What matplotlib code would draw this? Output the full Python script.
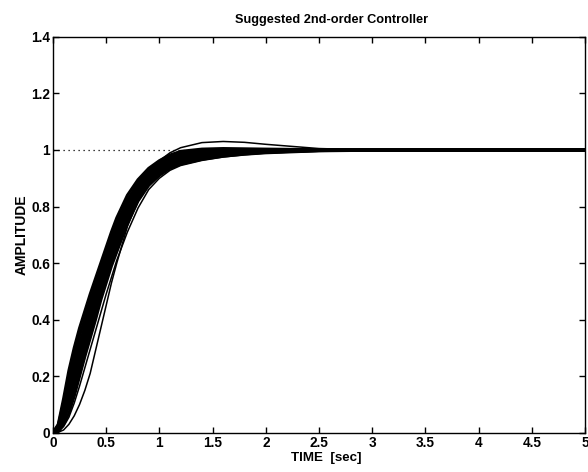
import matplotlib
matplotlib.use("Agg")
import matplotlib.pyplot as plt

plt.rcParams['font.family'] = ['Liberation Sans', 'DejaVu Sans']

# time samples (sec)
t = [0, .05, .1, .15, .2, .25, .3, .35, .4, .45, .5, .55, .6, .7, .8, .9,
     1.0, 1.1, 1.2, 1.4, 1.6, 1.8, 2.0, 2.5, 3.0, 5.0]

# step responses
resp_fast = [0, .03, .12, .22, .30, .37, .43, .49, .545, .60, .655, .71, .76, .84, .895, .935,
             .962, .982, .995, 1.003, 1.005, 1.004, 1.003, 1.001, 1.0, 1.0]
resp_b1 = [0, .026, .105, .195, .272, .342, .403, .464, .521, .578, .634, .69, .74, .823, .883, .925,
           .953, .974, .988, .997, 1.0, 1.001, 1.001, 1.0, 1.0, 1.0]
resp_b2 = [0, .022, .09, .17, .243, .313, .377, .438, .497, .557, .613, .67, .72, .807, .87, .915,
           .945, .966, .98, .991, .996, .998, .999, 1.0, 1.0, 1.0]
resp_b3 = [0, .018, .075, .145, .215, .285, .35, .413, .473, .535, .593, .65, .70, .79, .858, .905,
           .936, .959, .973, .985, .992, .995, .997, .999, 1.0, 1.0]
resp_b4 = [0, .013, .06, .12, .187, .257, .323, .387, .448, .513, .572, .63, .68, .773, .845, .895,
           .927, .951, .965, .979, .987, .991, .994, .998, 1.0, 1.0]
resp_b5 = [0, .009, .045, .095, .158, .228, .297, .361, .424, .492, .551, .61, .66, .757, .833, .885,
           .919, .943, .958, .973, .983, .988, .992, .998, .999, 1.0]
resp_slow = [0, .005, .03, .07, .13, .20, .27, .335, .40, .47, .53, .59, .64, .74, .82, .875,
             .91, .935, .95, .967, .978, .985, .99, .997, .999, 1.0]
resp_s = [0, .004, .022, .055, .105, .165, .23, .295, .36, .425, .49, .55, .61, .71, .795, .86,
          .90, .928, .945, .963, .975, .983, .989, .997, .999, 1.0]
resp_outlier = [0, .002, .01, .03, .06, .10, .15, .21, .29, .37, .45, .53, .60, .73, .82, .88,
                .92, .945, .96, .976, .984, .99, .994, .998, 1.0, 1.0]
resp_overshoot = [0, .01, .06, .13, .21, .29, .36, .43, .50, .56, .62, .675, .725, .81, .875, .925,
                  .962, .99, 1.008, 1.026, 1.03, 1.027, 1.02, 1.005, 1.0, 1.0]

band = [resp_fast, resp_b1, resp_b2, resp_b3, resp_b4, resp_b5, resp_slow]
singles = [resp_s, resp_outlier, resp_overshoot]

xticks = [0, 0.5, 1, 1.5, 2, 2.5, 3, 3.5, 4, 4.5, 5]
xticklabels = ['0', '0.5', '1', '1.5', '2', '2.5', '3', '3.5', '4', '4.5', '5']
yticks = [0, 0.2, 0.4, 0.6, 0.8, 1.0, 1.2, 1.4]
yticklabels = ['0', '0.2', '0.4', '0.6', '0.8', '1', '1.2', '1.4']

fig = plt.figure(figsize=(5.88, 4.72), dpi=100)
ax = fig.add_axes([0.090, 0.083, 0.905, 0.839])

ax.plot([0, 5], [1, 1], color='black', linestyle=(0, (1, 3)), linewidth=0.9)
for r in band:
    ax.plot(t, r, color='black', linewidth=2.2, solid_joinstyle='round')
for r in singles:
    ax.plot(t, r, color='black', linewidth=1.1)

ax.set_xlim(0, 5)
ax.set_ylim(0, 1.4)
ax.set_xticks(xticks)
ax.set_xticklabels(xticklabels)
ax.set_yticks(yticks)
ax.set_yticklabels(yticklabels)
ax.tick_params(direction='in', length=4, width=1, top=True, right=True,
               labelsize=9.8, pad=2)
for lab in ax.get_xticklabels() + ax.get_yticklabels():
    lab.set_fontweight('bold')
for s in ax.spines.values():
    s.set_linewidth(1.0)

ax.set_title('Suggested 2nd-order Controller', fontsize=9.2, fontweight='bold',
             x=0.523, pad=10)
ax.set_xlabel('TIME  [sec]', fontsize=9.6, fontweight='bold', labelpad=2, x=0.513)
ax.set_ylabel('AMPLITUDE', fontsize=10, fontweight='bold', labelpad=2)

fig.savefig('out.png', dpi=100)
